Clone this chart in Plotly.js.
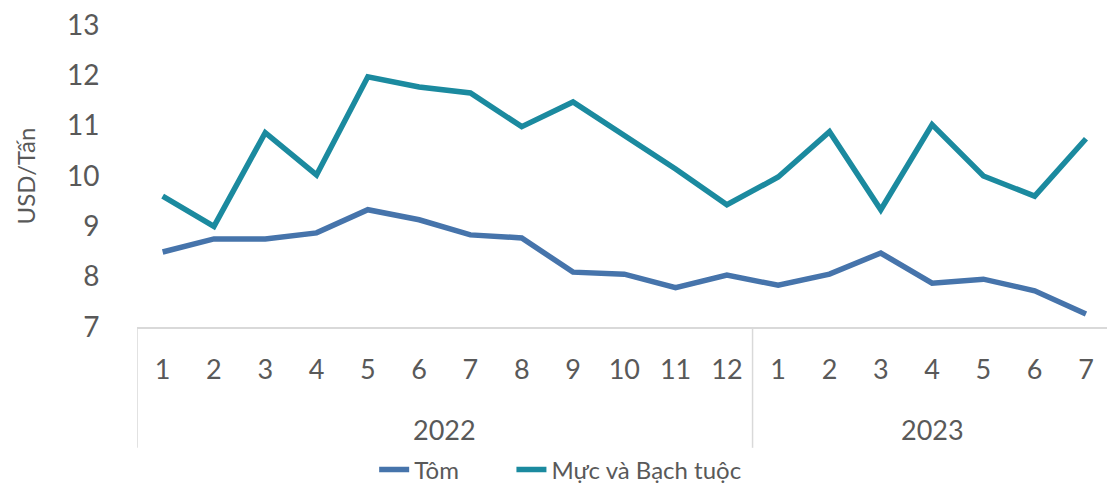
<!DOCTYPE html>
<html><head><meta charset="utf-8">
<script src="https://cdn.plot.ly/plotly-3.0.1.min.js"></script>
<style>html,body{margin:0;padding:0;background:#fff;}#chart{width:1107px;height:488px;}</style>
</head><body><div id="chart"></div>
<script>
var months = ['1','2','3','4','5','6','7','8','9','10','11','12','1','2','3','4','5','6','7'];
var years = ['2022','2022','2022','2022','2022','2022','2022','2022','2022','2022','2022','2022','2023','2023','2023','2023','2023','2023','2023'];
var tom = [8.49, 8.75, 8.75, 8.87, 9.33, 9.13, 8.83, 8.77, 8.09, 8.05, 7.78, 8.03, 7.83, 8.05, 8.47, 7.87, 7.95, 7.72, 7.26];
var muc = [9.60, 9.00, 10.86, 10.02, 11.97, 11.77, 11.65, 10.98, 11.47, 10.80, 10.14, 9.43, 9.98, 10.88, 9.33, 11.02, 10.00, 9.60, 10.74];

var idx = months.map(function(_, i){ return i; });
var FONT = 'Lato, "Noto Sans", sans-serif';
var GREY = '#595959';

var groups = [];
years.forEach(function(y, i){
  if (!groups.length || groups[groups.length-1].name !== y) groups.push({name: y, start: i, end: i});
  else groups[groups.length-1].end = i;
});
var annotations = groups.map(function(g){
  return {x: (g.start + g.end)/2, y: -0.34, xref: 'x', yref: 'paper', text: g.name,
          showarrow: false, yanchor: 'middle', font: {family: FONT, size: 27, color: GREY}};
});
var shapes = [];
groups.forEach(function(g){
  shapes.push({type: 'line', xref: 'x', yref: 'paper', x0: g.start - 0.5, x1: g.start - 0.5,
               y0: 0, y1: -0.4, line: {color: '#d9d9d9', width: 1.5}});
});

var traces = [
  {x: idx, y: tom, name: 'Tôm', type: 'scatter', mode: 'lines', legend: 'legend',
   line: {color: '#4674AB', width: 5.5}},
  {x: idx, y: muc, name: 'Mực và Bạch tuộc', type: 'scatter', mode: 'lines', legend: 'legend2',
   line: {color: '#1B8A9F', width: 5.5}}
];

function leg(x) {
  return {orientation: 'h', xref: 'container', yref: 'container', x: x, xanchor: 'left',
          y: 0.037, yanchor: 'middle', bgcolor: 'rgba(0,0,0,0)',
          font: {family: FONT, size: 24, color: GREY}};
}

var layout = {
  width: 1107, height: 488,
  margin: {l: 137, r: 0, t: 25, b: 161},
  paper_bgcolor: '#fff', plot_bgcolor: '#fff',
  showlegend: true,
  legend: leg(0.338),
  legend2: leg(0.462),
  xaxis: {range: [-0.5, 18.41], tickmode: 'array', tickvals: idx, ticktext: months,
          showgrid: false, zeroline: false, showline: true, linecolor: '#d9d9d9', linewidth: 1.5,
          ticks: 'outside', ticklen: 18, tickcolor: 'rgba(0,0,0,0)',
          tickfont: {family: FONT, size: 27, color: GREY}},
  yaxis: {range: [7, 13], dtick: 1, showgrid: false, zeroline: false, showline: false,
          ticks: 'outside', ticklen: 31, tickcolor: 'rgba(0,0,0,0)',
          tickfont: {family: FONT, size: 28, color: GREY},
          title: {text: 'USD/Tấn', font: {family: FONT, size: 24, color: GREY}, standoff: 24}},
  annotations: annotations,
  shapes: shapes
};
Plotly.newPlot('chart', traces, layout, {displayModeBar: false, staticPlot: true});
</script></body></html>
